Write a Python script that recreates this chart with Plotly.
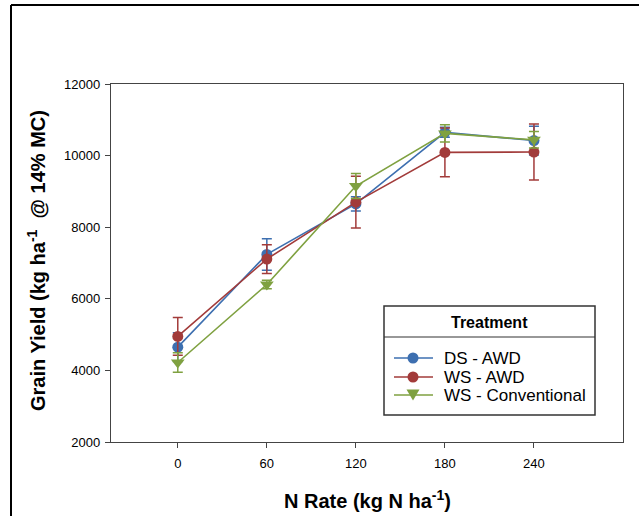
import plotly.graph_objects as go

n_rate = [0, 60, 120, 180, 240]
ds_awd = [4650, 7240, 8650, 10650, 10420]
ds_awd_err = [400, 440, 200, 140, 400]
ws_awd = [4950, 7110, 8700, 10090, 10100]
ws_awd_err = [530, 400, 725, 680, 780]
ws_conv = [4220, 6400, 9150, 10620, 10440]
ws_conv_err = [270, 120, 350, 240, 230]
series_names = ["DS - AWD", "WS - AWD", "WS - Conventional"]
y_ticks = [2000, 4000, 6000, 8000, 10000, 12000]
y_tick_labels = ["2000", "4000", "6000", "8000", "10000", "12000"]
x_tick_labels = ["0", "60", "120", "180", "240"]

colors = ["#3d6fb0", "#a23b3a", "#7fa140"]
symbols = ["circle", "circle", "triangle-down"]
FONT = "Liberation Sans, Arial, sans-serif"

fig = go.Figure()
for name, y, err, c, s in zip(series_names, [ds_awd, ws_awd, ws_conv],
                              [ds_awd_err, ws_awd_err, ws_conv_err], colors, symbols):
    fig.add_trace(go.Scatter(
        x=n_rate, y=y, name=name, mode="lines+markers", showlegend=False,
        line=dict(color=c, width=1.6),
        marker=dict(color=c, size=11 if s == "circle" else 12, symbol=s),
        error_y=dict(type="data", array=err, visible=True, color=c,
                     thickness=1.5, width=5),
    ))

W, H = 639, 516
L, R, T, B = 111, 16, 84, 74
pw, ph = W - L - R, H - T - B


def px(x):
    return (x - L) / pw


def py(y):
    return (H - B - y) / ph


shapes = [
    # outer frame (left + top)
    dict(type="line", xref="paper", yref="paper", x0=px(11), x1=px(11), y0=py(5), y1=py(530),
         line=dict(color="black", width=2)),
    dict(type="line", xref="paper", yref="paper", x0=px(11), x1=px(660), y0=py(5), y1=py(5),
         line=dict(color="black", width=2)),
    # legend box
    dict(type="rect", xref="paper", yref="paper", x0=px(384), x1=px(595), y0=py(306), y1=py(415),
         line=dict(color="#333", width=1.5), fillcolor="white", layer="below"),
    dict(type="line", xref="paper", yref="paper", x0=px(384), x1=px(595), y0=py(337), y1=py(337),
         line=dict(color="#333", width=1.2)),
]

annotations = [
    dict(text="<b>Treatment</b>", xref="paper", yref="paper", x=px(489), y=py(322),
         showarrow=False, font=dict(family=FONT, size=16, color="black"),
         xanchor="center", yanchor="middle"),
    dict(text="<b>N Rate (kg N ha<sup>-1</sup>)</b>", xref="paper", yref="paper",
         x=px(367), y=py(499), showarrow=False,
         font=dict(family=FONT, size=20, color="black"), xanchor="center", yanchor="middle"),
    dict(text="<b>Grain Yield (kg ha<sup>-1</sup>\u00a0\u00a0@ 14% MC)</b>", xref="paper", yref="paper",
         x=px(36), y=py(261), showarrow=False, textangle=-90,
         font=dict(family=FONT, size=20, color="black"), xanchor="center", yanchor="middle"),
]

# custom legend entries
row_y = [358, 377, 395]
for name, c, s, ry in zip(series_names, colors, symbols, row_y):
    shapes.append(dict(type="line", xref="paper", yref="paper",
                       x0=px(394), x1=px(433), y0=py(ry), y1=py(ry),
                       line=dict(color=c, width=1.6)))
    if s == "circle":
        r = 5.5
        shapes.append(dict(type="circle", xref="paper", yref="paper",
                           x0=px(413 - r), x1=px(413 + r), y0=py(ry + r), y1=py(ry - r),
                           line=dict(color=c, width=0), fillcolor=c))
    else:
        hw, hh = 6.5, 5.5
        path = "M {} {} L {} {} L {} {} Z".format(
            px(413 - hw), py(ry - hh), px(413 + hw), py(ry - hh), px(413), py(ry + hh))
        shapes.append(dict(type="path", xref="paper", yref="paper", path=path,
                           line=dict(color=c, width=0), fillcolor=c))
    annotations.append(dict(text=name, xref="paper", yref="paper", x=px(442), y=py(ry),
                            showarrow=False, xanchor="left", yanchor="middle",
                            font=dict(family=FONT, size=17, color="black")))

fig.update_layout(
    width=W, height=H,
    margin=dict(l=L, r=R, t=T, b=B),
    paper_bgcolor="white", plot_bgcolor="white",
    font=dict(family=FONT, size=13, color="black"),
    shapes=shapes, annotations=annotations,
    showlegend=False,
    xaxis=dict(range=[-45, 300], tickvals=n_rate, ticktext=x_tick_labels,
               ticks="outside", ticklen=5, ticklabelstandoff=4,
               tickcolor="#444", showline=True, linecolor="#444", linewidth=1.3,
               mirror=True, showgrid=False, zeroline=False,
               tickfont=dict(family=FONT, size=13, color="black")),
    yaxis=dict(range=[2000, 12000], tickvals=y_ticks, ticktext=y_tick_labels,
               ticks="outside", ticklen=5, ticklabelstandoff=2,
               tickcolor="#444", showline=True, linecolor="#444", linewidth=1.3,
               mirror=True, showgrid=False, zeroline=False,
               tickfont=dict(family=FONT, size=13, color="black")),
)

fig.write_html("out.html")
